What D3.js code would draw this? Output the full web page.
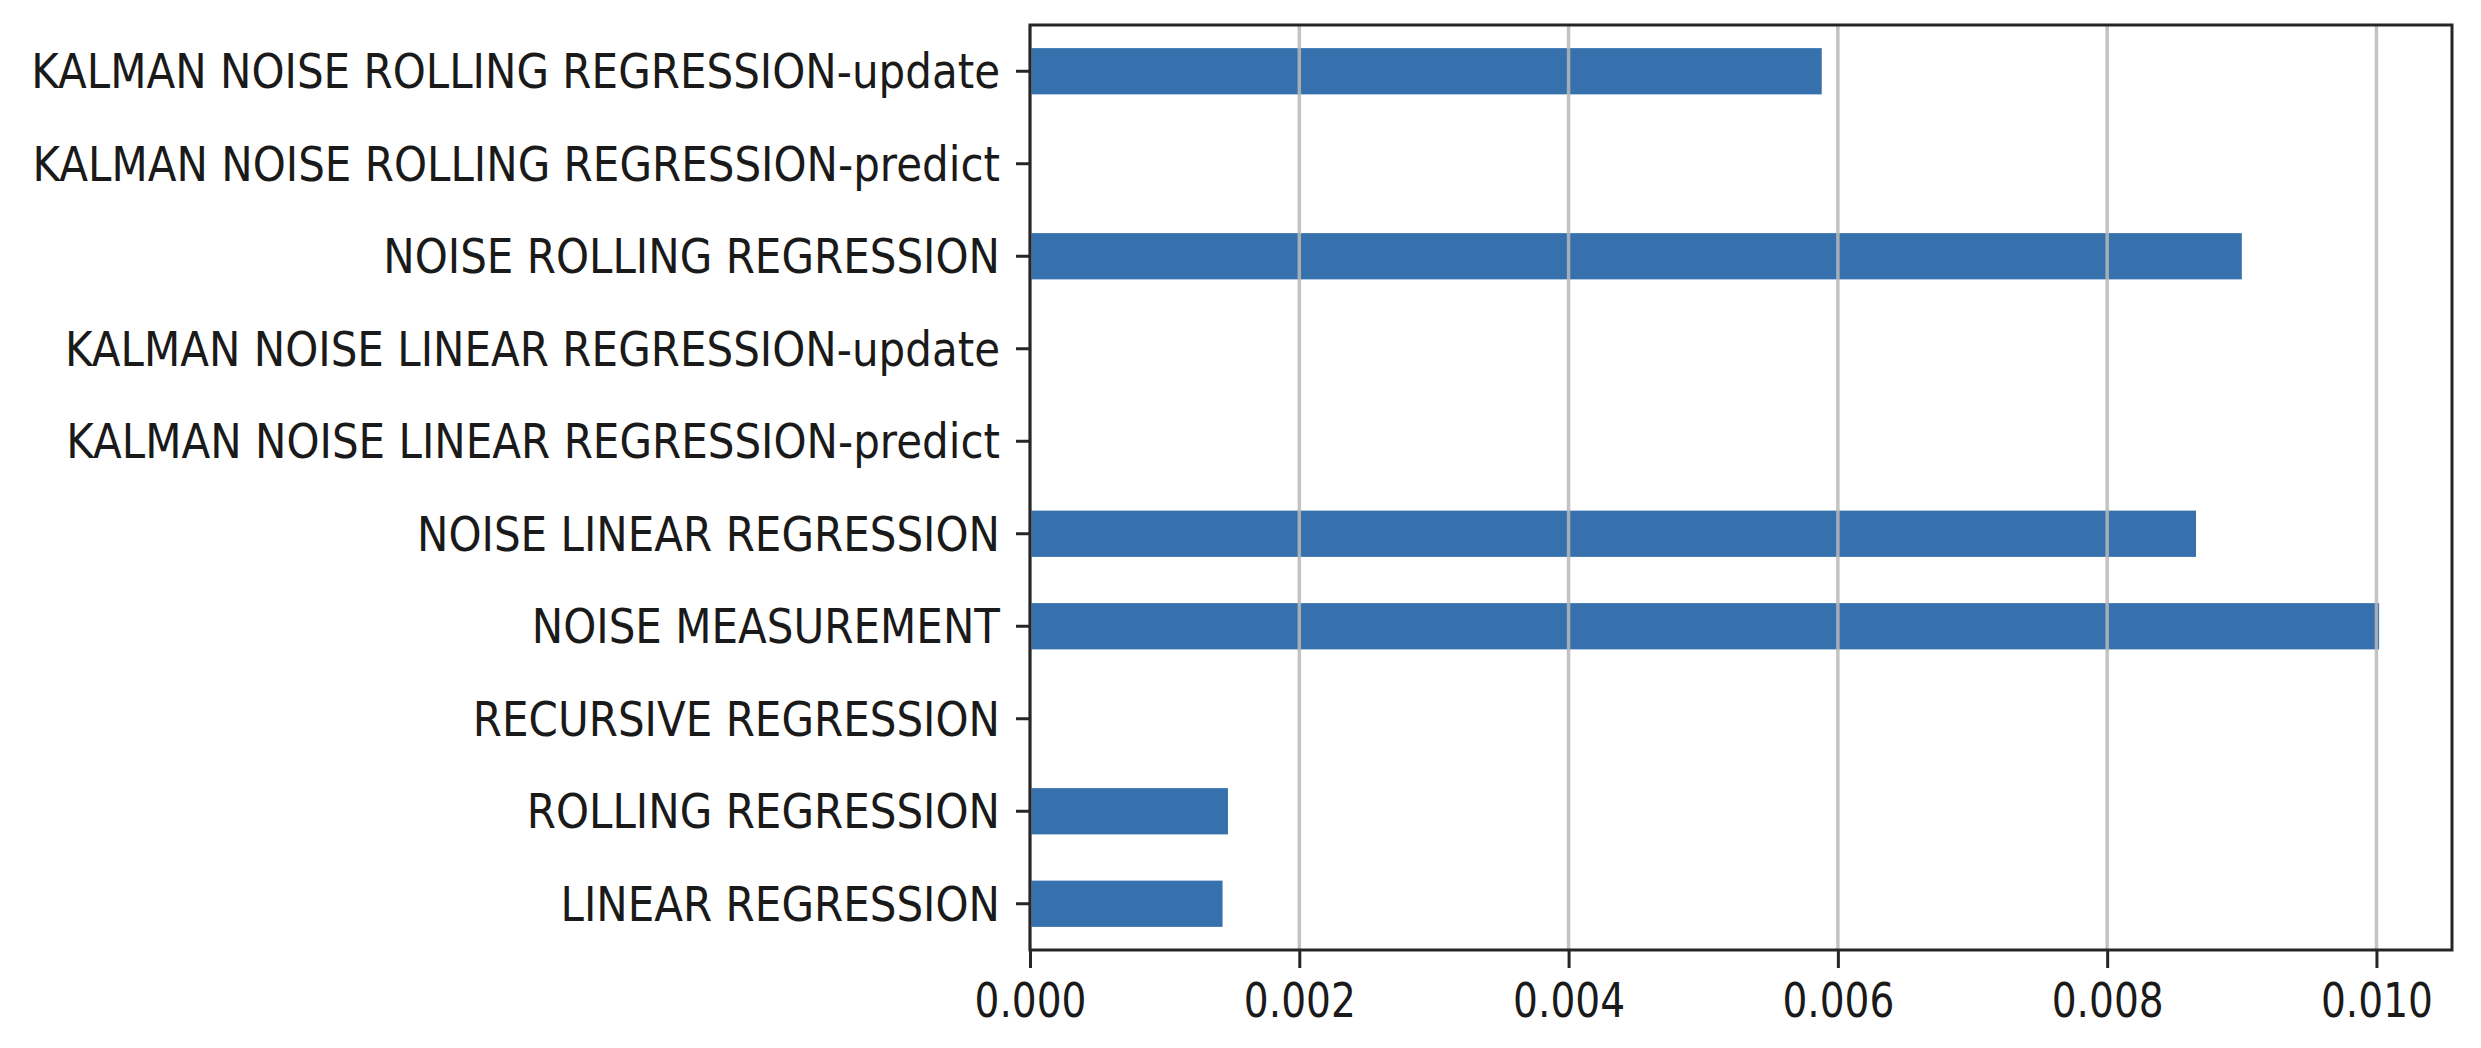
<!DOCTYPE html>
<html>
<head>
<meta charset="utf-8">
<script src="https://cdn.jsdelivr.net/npm/d3@7/dist/d3.min.js"></script>
<style>
  html, body { margin: 0; padding: 0; background: #ffffff; }
  svg { display: block; }
  text { font-family: "DejaVu Sans", sans-serif; fill: #1a1a1a; }
</style>
</head>
<body>
<svg id="chart" width="2481" height="1048"></svg>
<script>
// Categories listed bottom to top (as in the chart)
const categories = [
  "LINEAR REGRESSION",
  "ROLLING REGRESSION",
  "RECURSIVE REGRESSION",
  "NOISE MEASUREMENT",
  "NOISE LINEAR REGRESSION",
  "KALMAN NOISE LINEAR REGRESSION-predict",
  "KALMAN NOISE LINEAR REGRESSION-update",
  "NOISE ROLLING REGRESSION",
  "KALMAN NOISE ROLLING REGRESSION-predict",
  "KALMAN NOISE ROLLING REGRESSION-update"
];
const values = [0.00143, 0.00147, 0, 0.01002, 0.00866, 0, 0, 0.0090, 0, 0.00588];
const xTicks = [0, 0.002, 0.004, 0.006, 0.008, 0.010];

const margin = { left: 1030, right: 29, top: 25, bottom: 98 };
const W = 2481, H = 1048;
const svg = d3.select("#chart");
const innerW = W - margin.left - margin.right;
const innerH = H - margin.top - margin.bottom;

const x = d3.scaleLinear()
  .domain([0, d3.max(values) * 1.054])
  .range([0, innerW]);

const y = d3.scaleBand()
  .domain(categories.slice().reverse())
  .range([0, innerH])
  .paddingInner(0.5)
  .paddingOuter(0.25);

const g = svg.append("g").attr("transform", `translate(${margin.left},${margin.top})`);

// bars
g.selectAll("rect.bar")
  .data(categories.map((c, i) => ({ c, v: values[i] })))
  .join("rect")
  .attr("class", "bar")
  .attr("x", 0)
  .attr("y", d => y(d.c))
  .attr("width", d => x(d.v))
  .attr("height", y.bandwidth())
  .attr("fill", "#3670ad");

// vertical grid lines (on top of bars)
g.append("g")
  .selectAll("line")
  .data(xTicks)
  .join("line")
  .attr("x1", d => x(d)).attr("x2", d => x(d))
  .attr("y1", 0).attr("y2", innerH)
  .attr("stroke", "#b8b8b8")
  .attr("stroke-opacity", 0.85)
  .attr("stroke-width", 3.5);

const FS = 48;

// x axis
const xAxis = g.append("g")
  .attr("transform", `translate(0,${innerH})`)
  .call(d3.axisBottom(x).tickValues(xTicks).tickFormat(d3.format(".3f")).tickSize(18).tickPadding(0));
xAxis.select(".domain").remove();
xAxis.selectAll(".tick line").attr("stroke", "#262626").attr("stroke-width", 3);
xAxis.selectAll(".tick text")
  .attr("font-size", FS)
  .attr("fill", "#1a1a1a")
  .attr("dy", null)
  .attr("y", 0);

// y axis
const yAxis = g.append("g")
  .call(d3.axisLeft(y).tickSize(14).tickPadding(0));
yAxis.select(".domain").remove();
yAxis.selectAll(".tick line").attr("stroke", "#262626").attr("stroke-width", 3);
yAxis.selectAll(".tick text")
  .attr("font-size", FS)
  .attr("fill", "#1a1a1a")
  .attr("dy", null)
  .attr("x", 0);

// horizontal compression of the text to match reference proportions
const longest = yAxis.selectAll(".tick text").nodes()
  .reduce((m, n) => Math.max(m, n.getComputedTextLength()), 0);
const sy = 969 / longest;
yAxis.selectAll(".tick text")
  .attr("transform", `translate(-30,17) scale(${sy},1)`);

const refX = xAxis.selectAll(".tick text").nodes()[1].getComputedTextLength();
const sx = 112 / refX;
xAxis.selectAll(".tick text")
  .attr("transform", `translate(0,67) scale(${sx},1)`);

// frame
g.append("rect")
  .attr("x", 0).attr("y", 0)
  .attr("width", innerW).attr("height", innerH)
  .attr("fill", "none")
  .attr("stroke", "#262626")
  .attr("stroke-width", 3);
</script>
</body>
</html>
